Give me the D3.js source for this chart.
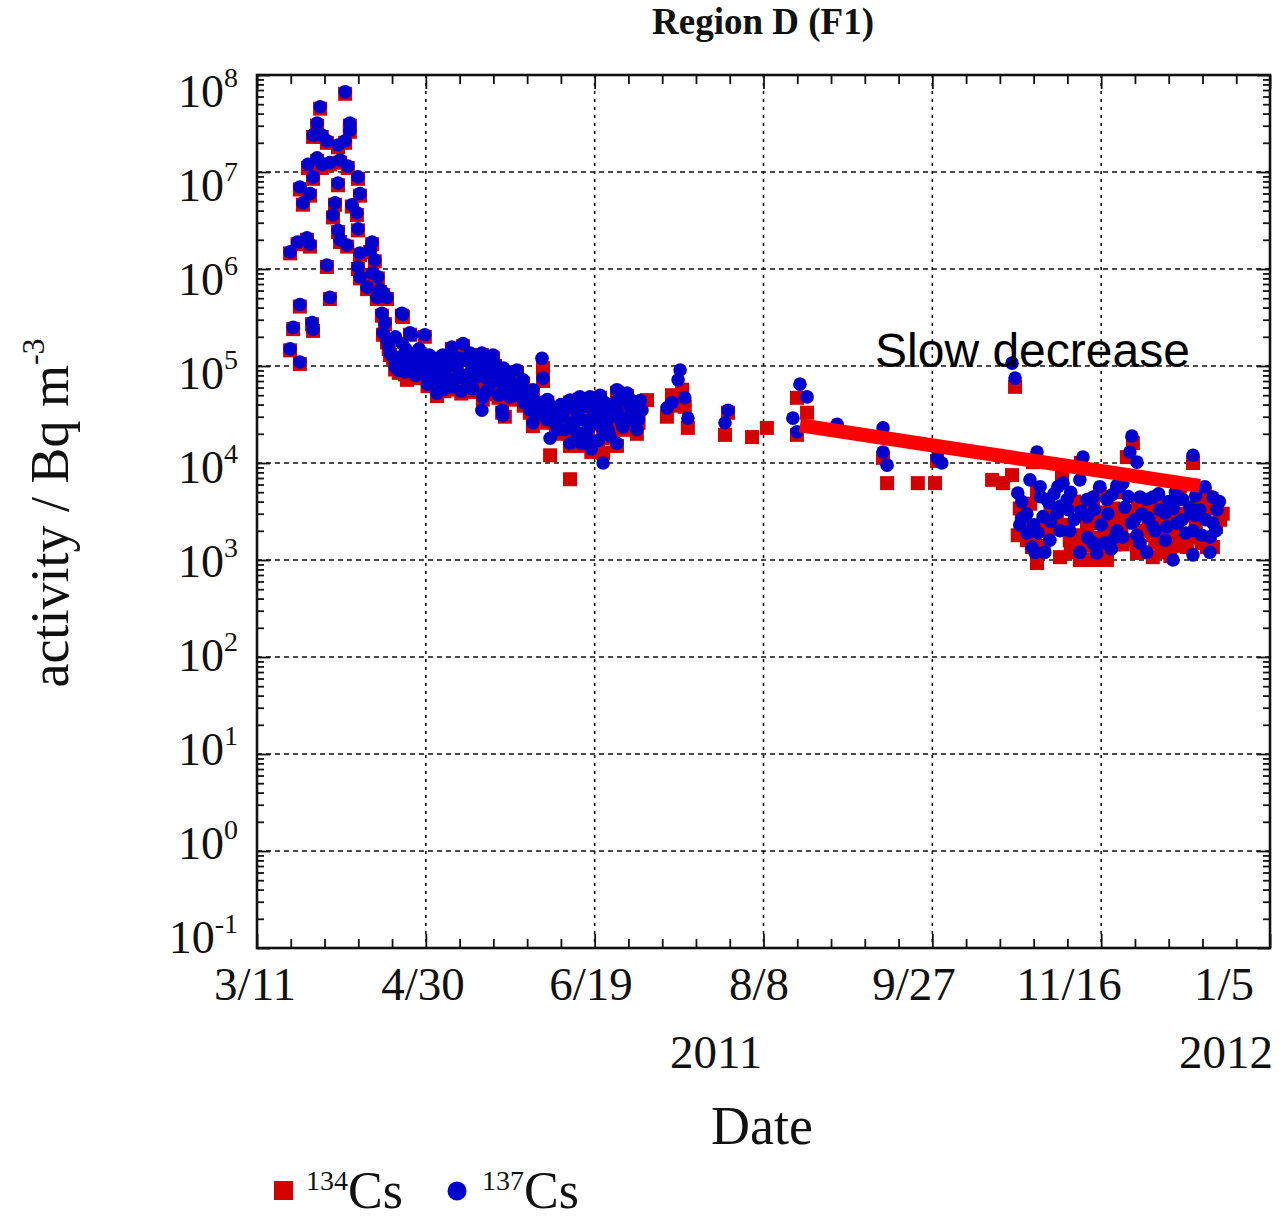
<!DOCTYPE html>
<html><head><meta charset="utf-8">
<script src="https://cdn.jsdelivr.net/npm/d3@7"></script>
<style>body{margin:0;background:#fff}svg{display:block}</style>
</head><body><svg id="c" width="1287" height="1219"></svg>
<script>
// ---- data (day offset from 2011-03-11, activity Bq m^-3) ----
const title = "Region D (F1)";
const xTickDays = [0, 50, 100, 150, 200, 250, 300];
const xTickLabels = ["3/11", "4/30", "6/19", "8/8", "9/27", "11/16", "1/5"];
const yearLabels = [["2011", 136], ["2012", 287]];
const yTickExps = [8, 7, 6, 5, 4, 3, 2, 1, 0, -1];
const seriesNames = ["134", "137"];
const trendLine = [[160.8, 2.45e4], [279.2, 5.8e3]];
const annotation = "Slow decrease";

const cs137 = [
 [9.8,1.5e5],[12.7,1.1e5],[10.7,2.5e5],[16.3,2.8e5],[16.6,2.4e5],[12.7,4.3e5],[21.6,5.1e5],
 [9.8,1.5e6],[12.0,1.9e6],[14.8,2.1e6],[15.7,1.8e6],[20.7,1.1e6],[13.6,4.8e6],[12.7,7.0e6],
 [15.7,6.0e6],[15.1,1.2e7],[16.6,8.9e6],[17.8,1.4e7],[19.2,1.2e7],[21.6,1.25e7],[24.6,1.33e7],
 [26.9,1.15e7],[29.9,8.9e6],[24.0,7.7e6],[30.5,6.0e6],[23.1,4.8e6],[28.1,4.6e6],[29.6,3.8e6],
 [22.5,3.6e6],[24.0,2.5e6],[29.9,2.6e6],[24.6,2.0e6],[26.7,1.77e6],[34.1,1.9e6],[30.5,1.46e6],
 [33.5,1.57e6],[34.9,1.24e6],[29.9,1.05e6],[30.5,8.3e5],[34.1,9.1e5],[35.8,8.3e5],[32.6,6.5e5],
 [36.4,6.1e5],[37.3,5.7e5],[38.5,5.1e5],[35.5,5.1e5],[18.7,4.7e7],[17.8,3.2e7],[19.2,2.4e7],
 [16.6,2.4e7],[20.7,2.1e7],[26.1,6.7e7],[27.5,3.2e7],[27.5,2.7e7],[26.1,2.1e7],[24.0,1.9e7],
 [37.0,3.5e5],[37.9,2.8e5],[42.9,3.5e5],[43.2,3.4e5],[37.3,2.2e5],[38.5,1.85e5],[45.3,2.2e5],
 [49.7,2.1e5],[45.9,2.1e5],[39.4,1.36e5],[40.3,1.24e5],[42.3,1.24e5],[45.3,1.36e5],[48.3,1.24e5],
 [40.9,9.8e4],[43.8,8.7e4],[48.3,9.1e4],[51.2,1.0e5],[54.2,1.1e5],[57.7,1.57e5],[61.0,1.7e5],
 [63.1,1.36e5],[66.6,1.36e5],[69.9,1.3e5],[52.1,7.2e4],[56.3,7.5e4],[53.3,5.25e4],[58.0,6.1e4],
 [62.2,6.7e4],[65.1,7.7e4],[59.2,9.8e4],[63.7,9.1e4],[68.1,9.8e4],[71.1,8.7e4],[74.0,7.2e4],
 [77.0,9.1e4],[78.8,7.2e4],[66.9,4.8e4],[66.6,3.5e4],[72.6,3.5e4],[74.9,4.8e4],[77.9,5.25e4],
 [72.8,3.1e4],[44.4,1.1e5],[46.5,1.0e5],[50.0,8.0e4],[55.0,8.5e4],[57.0,1.1e5],[60.0,1.2e5],
 [61.5,8.0e4],[64.5,1.1e5],[67.5,1.15e5],[70.5,1.05e5],[73.0,6.0e4],[76.0,6.5e4],[79.5,5.5e4],
 [69.0,6.5e4],[71.5,5.0e4],[60.5,5.5e4],[55.5,5.8e4],[50.5,6.5e4],
 [39.0,1.6e5],[41.0,1.1e5],[42.0,9.0e4],[44.0,1.5e5],[46.0,1.2e5],[47.0,8.0e4],[49.0,1.05e5],
 [51.0,1.3e5],[52.0,9.0e4],[53.0,1.2e5],[55.0,1.3e5],[56.0,9.5e4],[58.0,1.3e5],[59.0,7.5e4],
 [62.0,1.15e5],[63.0,7.5e4],[65.0,1.0e5],[66.0,8.5e4],[68.0,7.5e4],[70.0,8.0e4],[72.0,7.0e4],
 [73.0,9.5e4],[75.0,8.5e4],[76.0,5.0e4],[78.0,6.5e4],[79.0,4.2e4],[80.0,4.8e4],[68.0,5.5e4],
 [64.0,5.8e4],[57.0,6.8e4],[54.0,7.0e4],[48.0,1.5e5],[41.0,2.0e5],[43.0,1.7e5],
 [84.4,1.2e5],[84.7,7.5e4],[81.7,5.7e4],[80.8,3.5e4],[83.8,4.2e4],[87.4,3.8e4],[81.7,2.6e4],
 [85.9,2.8e4],[86.8,1.8e4],[92.7,4.45e4],[95.6,4.8e4],[98.6,4.8e4],[101.6,5.0e4],[106.6,5.7e4],
 [109.6,5.25e4],[121.4,3.7e4],[90.6,3.0e4],[94.8,3.3e4],[98.6,2.8e4],[102.5,3.3e4],[106.6,3.5e4],
 [110.5,3.8e4],[112.5,2.2e4],[92.7,1.6e4],[97.7,1.85e4],[102.5,2.2e4],[106.6,1.6e4],[108.4,2.35e4],
 [102.5,1.0e4],[112.8,3.7e4],[88.5,2.5e4],[89.5,3.8e4],[91.0,2.2e4],[93.5,2.6e4],[95.0,2.0e4],
 [96.5,3.8e4],[99.5,3.5e4],[100.5,2.6e4],[104.0,2.8e4],[105.0,4.0e4],[107.5,3.0e4],[109.0,4.4e4],
 [111.0,2.8e4],[104.5,1.9e4],[99.0,1.4e4],[113.5,4.4e4],
 [82.0,4.5e4],[83.0,3.2e4],[85.0,3.5e4],[86.0,4.5e4],[88.0,3.0e4],[89.0,2.2e4],[90.0,4.0e4],
 [91.0,3.5e4],[93.0,3.8e4],[94.0,2.2e4],[96.0,2.8e4],[97.0,4.2e4],[98.0,2.2e4],[100.0,3.8e4],
 [101.0,3.0e4],[103.0,4.2e4],[104.0,2.2e4],[105.0,3.0e4],[107.0,4.5e4],[108.0,2.6e4],[110.0,3.0e4],
 [111.0,4.4e4],[113.0,2.8e4],[114.0,3.5e4],[96.0,1.6e4],[101.0,1.7e4],[94.0,4.2e4],
 [122.9,4.2e4],[125.3,9.1e4],[124.7,7.2e4],[126.7,4.7e4],[127.6,2.9e4],[139.5,3.5e4],[138.6,2.6e4],
 [160.8,6.5e4],[162.9,4.8e4],[158.7,2.9e4],[159.9,2.1e4],[171.8,2.5e4],[185.4,2.3e4],[185.4,1.3e4],
 [186.6,9.5e3],[201.4,1.13e4],[202.8,1.0e4],[223.6,1.07e5],[224.5,7.5e4],
 [231.0,1.3e4],[228.9,6.7e3],[231.9,5.7e3],[225.3,4.9e3],[226.5,4.0e3],[226.5,2.7e3],[225.9,2.3e3],
 [228.0,1.9e3],[229.5,1.36e3],[230.4,1.2e3],[233.3,1.2e3],[231.3,1.9e3],[234.8,1.6e3],[232.8,2.8e3],
 [233.9,4.2e3],[234.5,3.9e3],[237.2,5.7e3],[238.7,6.2e3],[236.9,3.05e3],[239.9,4.2e3],[240.2,3.3e3],
 [237.8,2.0e3],[240.7,2.0e3],[243.7,1.2e3],[244.6,1.15e4],[243.7,6.7e3],[245.8,4.2e3],[247.6,4.45e3],
 [249.6,5.7e3],[251.7,4.2e3],[253.2,4.7e3],[254.7,5.9e3],[255.6,5.7e3],[256.4,6.2e3],[245.8,2.8e3],
 [247.6,1.5e3],[248.7,1.18e3],[251.1,1.5e3],[254.1,1.73e3],[254.7,2.0e3],[256.4,1.73e3],[259.1,1.9e4],
 [258.5,1.3e4],[260.6,1.02e4],[261.5,4.45e3],[260.0,2.6e3],[259.0,2.4e3],[260.6,1.8e3],[261.5,1.5e3],
 [263.5,1.2e3],[263.5,4.2e3],[265.3,4.45e3],[267.4,3.3e3],[268.9,3.05e3],[271.3,3.4e3],[273.3,4.2e3],
 [265.3,2.2e3],[269.5,2.2e3],[272.4,2.4e3],[271.3,1.0e3],[277.2,1.13e3],[282.2,1.2e3],[277.2,1.2e4],
 [274.2,4.2e3],[276.3,3.5e3],[279.2,3.3e3],[280.7,5.7e3],[283.1,4.45e3],[284.3,3.3e3],[277.2,2.0e3],
 [279.8,1.8e3],[282.2,1.73e3],[283.1,2.4e3],[276.5,3.0e3],[278.0,2.9e3],
 [228.0,3.0e3],[230.0,2.3e3],[232.0,4.5e3],[235.0,2.5e3],[236.0,4.8e3],[238.0,3.6e3],[241.0,5.0e3],
 [242.0,2.6e3],[244.0,3.2e3],[246.0,1.7e3],[248.0,3.3e3],[250.0,2.3e3],[252.0,3.0e3],[253.0,1.3e3],
 [257.0,3.5e3],[258.0,4.5e3],[262.0,3.0e3],[264.0,2.7e3],[266.0,2.0e3],[267.0,4.8e3],[269.0,1.6e3],
 [270.0,4.0e3],[272.0,5.0e3],[274.0,2.6e3],[275.0,1.9e3],[278.0,4.6e3],[281.0,2.6e3],[284.0,2.0e3],
 [285.0,4.0e3]
];

const cs134 = [
 [9.8,1.45e5],[12.7,1.05e5],[10.7,2.4e5],[16.3,2.7e5],[16.6,2.3e5],[12.7,4.1e5],[21.6,4.9e5],
 [9.8,1.45e6],[12.0,1.8e6],[14.8,2.0e6],[15.7,1.7e6],[20.7,1.05e6],[13.6,4.6e6],[12.7,6.6e6],
 [15.7,5.7e6],[15.1,1.1e7],[16.6,8.5e6],[17.8,1.3e7],[19.2,1.1e7],[21.6,1.2e7],[24.6,1.25e7],
 [26.9,1.1e7],[29.9,8.5e6],[24.0,7.3e6],[30.5,5.7e6],[23.1,4.6e6],[28.1,4.4e6],[29.6,3.6e6],
 [22.5,3.4e6],[24.0,2.4e6],[29.9,2.5e6],[24.6,1.9e6],[26.7,1.7e6],[34.1,1.8e6],[30.5,1.4e6],
 [33.5,1.5e6],[34.9,1.2e6],[29.9,1.0e6],[30.5,8.0e5],[34.1,8.7e5],[35.8,8.0e5],[32.6,6.2e5],
 [36.4,5.8e5],[37.3,5.4e5],[38.5,4.9e5],[35.5,4.9e5],[18.7,4.5e7],[17.8,3.0e7],[19.2,2.3e7],
 [16.6,2.3e7],[20.7,2.0e7],[26.1,6.4e7],[27.5,3.0e7],[27.5,2.6e7],[26.1,2.0e7],[24.0,1.8e7],
 [37.0,3.3e5],[37.9,2.7e5],[42.9,3.3e5],[43.2,3.2e5],[37.3,2.1e5],[38.5,1.75e5],[45.3,2.1e5],
 [49.7,2.0e5],[39.4,1.3e5],[40.3,1.2e5],[42.3,1.15e5],[45.3,1.3e5],[48.3,1.15e5],[40.9,9.2e4],
 [43.8,8.2e4],[44.4,7.2e4],[48.3,8.6e4],[51.2,9.5e4],[52.7,6.4e4],[54.2,1.05e5],[57.7,1.5e5],
 [61.0,1.6e5],[63.1,1.3e5],[66.6,1.3e5],[69.9,1.2e5],[52.1,6.8e4],[56.3,7.0e4],[53.3,4.9e4],
 [58.0,5.7e4],[62.2,6.3e4],[65.1,7.3e4],[59.2,9.2e4],[63.7,8.6e4],[68.1,9.2e4],[71.1,8.2e4],
 [74.0,6.8e4],[77.0,8.5e4],[78.8,6.6e4],[66.9,4.5e4],[72.6,3.3e4],[73.4,3.0e4],[74.9,4.5e4],
 [77.9,5.0e4],[44.4,1.0e5],[46.5,9.5e4],[50.0,7.5e4],[55.0,8.0e4],[57.0,1.05e5],[60.0,1.15e5],
 [61.5,7.5e4],[64.5,1.05e5],[67.5,1.1e5],[70.5,1.0e5],[73.0,5.7e4],[76.0,6.2e4],[79.5,5.2e4],
 [69.0,6.2e4],[71.5,4.7e4],[60.5,5.2e4],[55.5,5.5e4],[50.5,6.2e4],
 [39.0,1.5e5],[42.0,8.5e4],[47.0,7.5e4],[52.0,8.5e4],[56.0,9.0e4],[59.0,7.0e4],[63.0,7.0e4],
 [66.0,8.0e4],[68.0,7.0e4],[72.0,6.5e4],[75.0,8.0e4],[76.0,4.6e4],[79.0,3.9e4],[80.0,4.4e4],
 [68.0,5.1e4],[64.0,5.4e4],[57.0,6.3e4],[54.0,6.5e4],
 [84.7,9.5e4],[84.7,7.0e4],[81.7,5.3e4],[80.8,3.3e4],[83.8,4.0e4],[87.4,3.6e4],[81.7,2.4e4],
 [85.9,2.6e4],[86.8,1.2e4],[92.7,6.8e3],[92.7,4.2e4],[95.6,4.5e4],[98.6,4.5e4],[101.6,4.7e4],
 [106.6,5.3e4],[109.6,4.9e4],[115.5,4.45e4],[90.6,2.8e4],[94.8,3.1e4],[98.6,2.6e4],[102.5,3.1e4],
 [106.6,3.3e4],[110.5,3.6e4],[112.5,2.0e4],[92.7,1.5e4],[97.7,1.7e4],[102.5,2.0e4],[106.6,1.5e4],
 [108.4,2.2e4],[102.5,1.27e4],[112.8,3.4e4],[88.5,2.4e4],[89.5,3.6e4],[91.0,2.1e4],[93.5,2.5e4],
 [95.0,1.9e4],[96.5,3.6e4],[99.5,3.3e4],[100.5,2.5e4],[104.0,2.6e4],[105.0,3.8e4],[107.5,2.8e4],
 [109.0,4.2e4],[111.0,2.6e4],[104.5,1.8e4],[99.0,1.3e4],[113.5,4.2e4],
 [83.0,3.0e4],[86.0,4.2e4],[89.0,2.0e4],[91.0,3.3e4],[94.0,2.0e4],[97.0,3.9e4],[98.0,2.0e4],
 [101.0,2.8e4],[104.0,2.0e4],[108.0,2.4e4],[110.0,2.8e4],[113.0,2.6e4],[96.0,1.5e4],[101.0,1.6e4],
 [121.4,3.0e4],[122.9,3.9e4],[122.9,5.0e4],[125.9,5.7e4],[126.7,3.8e4],[127.6,2.3e4],[139.5,3.3e4],
 [138.6,1.95e4],[146.6,1.85e4],[151.0,2.3e4],[159.9,4.7e4],[162.9,3.3e4],[159.9,1.95e4],
 [185.4,1.13e4],[186.6,6.2e3],[195.7,6.2e3],[200.8,6.2e3],[201.4,1.05e4],[217.7,6.7e3],[220.9,6.2e3],
 [223.6,7.5e3],[224.5,6.1e4],
 [229.8,1.02e4],[231.0,5.0e3],[225.9,3.4e3],[225.3,1.8e3],[229.5,1.36e3],[231.0,9.3e2],[234.2,2.0e3],
 [238.4,7.5e3],[237.8,1.07e3],[242.0,1.5e3],[244.0,1.0e4],[247.6,1.0e3],[251.7,1.0e3],[253.5,3.4e3],
 [255.6,2.6e3],[251.7,2.6e3],[250.5,3.1e3],[257.0,2.8e3],[259.4,1.6e4],[257.6,1.15e4],[260.9,3.4e3],
 [260.6,1.18e3],[265.3,1.07e3],[269.5,1.73e3],[266.0,1.5e3],[273.3,1.73e3],[277.2,1.0e4],[273.3,5.7e3],
 [279.2,4.2e3],[284.3,3.4e3],[285.2,2.6e3],[283.1,1.36e3],[275.4,1.36e3],[281.3,1.36e3],[278.5,3.7e3],
 [226.5,3.0e3],[228.0,1.6e3],[232.8,2.3e3],[236.9,2.5e3],[239.9,3.5e3],[240.7,1.6e3],[243.7,1.0e3],
 [245.8,3.5e3],[247.6,3.7e3],[249.6,4.8e3],[254.7,5.0e3],[245.8,2.3e3],[251.1,1.25e3],[254.1,1.45e3],
 [256.4,1.45e3],[261.5,3.7e3],[263.5,3.5e3],[267.4,2.8e3],[271.3,2.8e3],[265.3,1.8e3],[272.4,2.0e3],
 [276.3,2.9e3],[280.7,4.8e3],[283.1,3.7e3],[279.8,1.5e3],[282.2,1.45e3],[249.0,1.7e3],[262.0,2.0e3],
 [268.0,1.2e3],[270.5,1.1e3],
 [227.0,2.2e3],[229.0,3.8e3],[233.0,1.3e3],[235.0,3.2e3],[239.0,2.3e3],[241.0,1.2e3],[242.0,4.0e3],
 [246.0,1.4e3],[248.0,2.4e3],[250.0,1.4e3],[252.0,2.0e3],[256.0,2.2e3],[258.0,3.2e3],[259.0,1.6e3],
 [262.0,1.2e3],[264.0,2.4e3],[266.0,3.6e3],[268.0,2.1e3],[270.0,3.2e3],[272.0,1.4e3],[274.0,3.0e3],
 [276.0,1.7e3],[278.0,2.4e3],[281.0,3.4e3],[284.0,2.2e3],[286.0,3.0e3],[231.5,1.4e3],[244.5,1.8e3]
];

// ---- drawing ----
const RED = "#d40000", BLUE = "#0000cc";
const SERIF = "'Liberation Serif','Times New Roman',serif";
const day0 = Date.UTC(2011, 2, 11);
const toDate = d => new Date(day0 + d * 864e5);

const L = 257, R = 1270, T = 75, B = 948;
const x = d3.scaleUtc().domain([toDate(0), toDate(300)]).range([L, R]);
const y = d3.scaleLog().domain([0.1, 1e8]).range([B, T]);
const yLab = d3.scaleLog().domain([0.1, 1e8]).range([937, 91]);
const xLab = d3.scaleLinear().domain([0, 150, 300]).range([255, 759, 1224]);

const svg = d3.select("#c");
svg.append("rect").attr("width", 1287).attr("height", 1219).attr("fill", "#fff");

// grid
const g = svg.append("g");
g.selectAll(".vg").data(xTickDays.slice(1, -1)).join("line")
  .attr("x1", d => x(toDate(d))).attr("x2", d => x(toDate(d)))
  .attr("y1", T).attr("y2", B)
  .attr("stroke", "#111").attr("stroke-width", 1.6).attr("stroke-dasharray", "3,5");
g.selectAll(".hg").data(yTickExps.slice(1, -1)).join("line")
  .attr("x1", L).attr("x2", R)
  .attr("y1", d => y(Math.pow(10, d))).attr("y2", d => y(Math.pow(10, d)))
  .attr("stroke", "#111").attr("stroke-width", 1.6).attr("stroke-dasharray", "5,4");

// ticks via d3 axes (inward)
const minorDays = d3.range(0, 301, 10).filter(d => d % 50 !== 0).map(toDate);
const majorDates = xTickDays.map(toDate);
const minorY = [];
for (let e = -1; e < 8; e++) for (let k = 2; k <= 9; k++) minorY.push(k * Math.pow(10, e));
const majorY = yTickExps.map(e => Math.pow(10, e));

function ax(axis, tr) {
  const a = svg.append("g").attr("transform", tr).call(axis);
  a.select(".domain").remove();
  a.selectAll("text").remove();
  a.selectAll("line").attr("stroke", "#111").attr("stroke-width", 1.8);
}
ax(d3.axisBottom(x).tickValues(minorDays).tickSize(-9), `translate(0,${B})`);
ax(d3.axisBottom(x).tickValues(majorDates).tickSize(-14), `translate(0,${B})`);
ax(d3.axisTop(x).tickValues(minorDays).tickSize(-9), `translate(0,${T})`);
ax(d3.axisTop(x).tickValues(majorDates).tickSize(-14), `translate(0,${T})`);
ax(d3.axisLeft(y).tickValues(minorY).tickSize(-7), `translate(${L},0)`);
ax(d3.axisLeft(y).tickValues(majorY).tickSize(-13), `translate(${L},0)`);
ax(d3.axisRight(y).tickValues(minorY).tickSize(-7), `translate(${R},0)`);
ax(d3.axisRight(y).tickValues(majorY).tickSize(-13), `translate(${R},0)`);

// frame
svg.append("rect").attr("x", L).attr("y", T).attr("width", R - L).attr("height", B - T)
  .attr("fill", "none").attr("stroke", "#111").attr("stroke-width", 2.6);

// markers
const s = 14;
svg.append("g").selectAll("rect").data(cs134).join("rect")
  .attr("x", d => x(toDate(d[0])) - s / 2).attr("y", d => y(d[1]) - s / 2)
  .attr("width", s).attr("height", s).attr("fill", RED);
svg.append("g").selectAll("circle").data(cs137).join("circle")
  .attr("cx", d => x(toDate(d[0]))).attr("cy", d => y(d[1])).attr("r", 6.8).attr("fill", BLUE);

// trend line
svg.append("line")
  .attr("x1", x(toDate(trendLine[0][0]))).attr("y1", y(trendLine[0][1]))
  .attr("x2", x(toDate(trendLine[1][0]))).attr("y2", y(trendLine[1][1]))
  .attr("stroke", "#ff0000").attr("stroke-width", 14);

svg.append("text").attr("x", 875).attr("y", 367)
  .attr("font-family", "'Liberation Sans',Arial,sans-serif").attr("font-size", 48)
  .attr("fill", "#000").text(annotation);

// y tick labels
const yl = svg.append("g").attr("font-family", SERIF).attr("fill", "#111");
yTickExps.forEach(e => {
  const t = yl.append("text").attr("x", 238).attr("y", yLab(Math.pow(10, e)) + 16)
    .attr("text-anchor", "end").attr("font-size", 46);
  t.append("tspan").text("10");
  t.append("tspan").attr("font-size", 28).attr("dy", -20).text(String(e));
});

// x tick labels
svg.append("g").selectAll("text").data(xTickDays).join("text")
  .attr("x", (d) => xLab(d)).attr("y", 1000)
  .attr("text-anchor", "middle").attr("font-family", SERIF).attr("font-size", 47)
  .attr("fill", "#111").text((d, i) => xTickLabels[i]);

svg.append("g").selectAll("text").data(yearLabels).join("text")
  .attr("x", d => x(toDate(d[1]))).attr("y", 1068)
  .attr("text-anchor", "middle").attr("font-family", SERIF).attr("font-size", 47)
  .attr("fill", "#111").text(d => d[0]);

// axis titles
svg.append("text").attr("x", 762).attr("y", 1144).attr("text-anchor", "middle")
  .attr("font-family", SERIF).attr("font-size", 54).attr("fill", "#111").text("Date");
const yt = svg.append("text").attr("transform", "translate(68,513) rotate(-90)")
  .attr("text-anchor", "middle").attr("font-family", SERIF).attr("font-size", 54).attr("fill", "#111");
yt.append("tspan").text("activity / Bq m");
yt.append("tspan").attr("font-size", 32).attr("dy", -24).text("-3");

// title
svg.append("text").attr("x", 763).attr("y", 34).attr("text-anchor", "middle")
  .attr("font-family", SERIF).attr("font-weight", "bold").attr("font-size", 37)
  .attr("fill", "#111").text(title);

// legend
const lg = svg.append("g").attr("font-family", SERIF).attr("fill", "#111");
lg.append("rect").attr("x", 274).attr("y", 1181).attr("width", 19).attr("height", 19).attr("fill", RED);
lg.append("circle").attr("cx", 457).attr("cy", 1191).attr("r", 9.5).attr("fill", BLUE);
[[306, seriesNames[0]], [482, seriesNames[1]]].forEach(([lx, n]) => {
  const t = lg.append("text").attr("x", lx).attr("y", 1208);
  t.append("tspan").attr("font-size", 28).attr("dy", -18).text(n);
  t.append("tspan").attr("font-size", 52).attr("dy", 18).text("Cs");
});
</script></body></html>
